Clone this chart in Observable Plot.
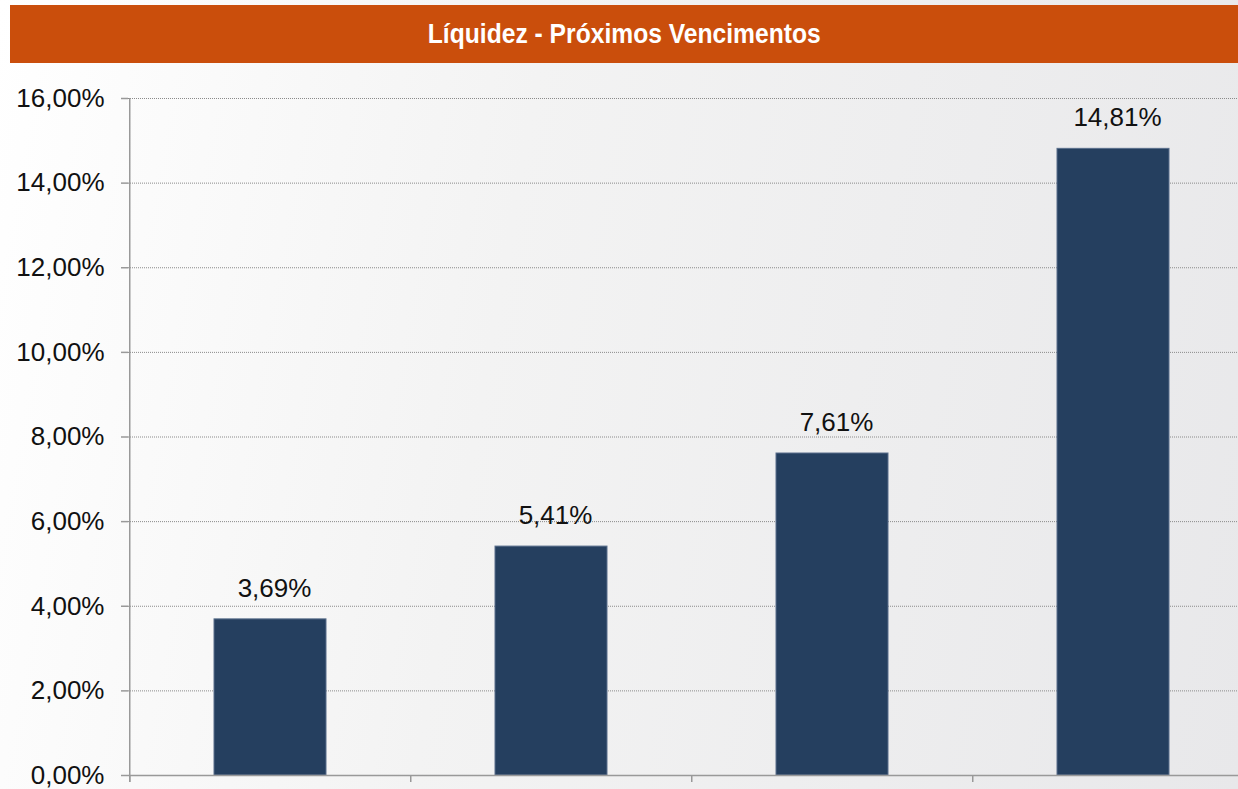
<!DOCTYPE html>
<html><head><meta charset="utf-8">
<script src="https://cdn.jsdelivr.net/npm/d3@7"></script>
<script src="https://cdn.jsdelivr.net/npm/@observablehq/plot@0.6"></script>
<style>
html,body{margin:0;padding:0;width:1238px;height:789px;overflow:hidden;}
body{background:linear-gradient(100deg,#ffffff 0%,#f3f3f3 40%,#e8e8ea 100%);font-family:"Liberation Sans",Arial,sans-serif;}
#title{margin:5px 0 0 10px;width:1228px;height:58px;background:#CA4E0C;color:#fff;
font-family:"Liberation Sans Narrow","Arial Narrow","Liberation Sans",sans-serif;font-weight:bold;font-size:28px;
display:flex;align-items:center;justify-content:center;}
#title span{display:inline-block;transform:scaleX(0.88);white-space:nowrap;}
svg{display:block;overflow:visible;}
</style></head>
<body>
<div id="title"><span>Líquidez - Próximos Vencimentos</span></div>
<div id="chart"></div>
<script>
const categories = ["A", "B", "C", "D"];
const values = [3.69, 5.41, 7.61, 14.81];
const yTicks = [0, 2, 4, 6, 8, 10, 12, 14, 16];

const fmt = v => v.toFixed(2).replace(".", ",") + "%";
const data = categories.map((c, i) => ({cat: c, v: values[i]}));

const W = 1238, H = 726;
const x0 = 128, x1 = 1254;
const step = (x1 - x0) / categories.length;

const chart = Plot.plot({
  width: W, height: H,
  marginLeft: 128, marginRight: 0, marginTop: 35, marginBottom: 14,
  style: {background: "transparent", fontFamily: "'Liberation Sans', Arial, sans-serif", overflow: "visible"},
  x: {domain: categories, range: [x0, x1], paddingInner: 0.602, paddingOuter: 0.301, axis: null},
  y: {domain: [0, 16], axis: null},
  marks: [
    Plot.ruleY(yTicks.filter(t => t > 0), {y: d => d, stroke: "#8a8a8a", strokeDasharray: "1,1", strokeWidth: 1}),
    Plot.barY(data, {x: "cat", y: "v", fill: "#253F5F", stroke: "#5a6f8c", strokeWidth: 1}),
    Plot.text(data, {x: "cat", y: "v", text: d => fmt(d.v), dy: -31, dx: 4, fontSize: 26, fill: "#111"}),
    Plot.ruleY([0], {stroke: "#999", strokeWidth: 1.5}),
    Plot.ruleX(categories, {x: d => d, dx: -step / 2, y1: 0, y2: -0.165, stroke: "#999", strokeWidth: 1.5}),
    Plot.ruleX([0], {x: () => categories[0], dx: -step / 2, y1: -0.165, y2: 16, stroke: "#999", strokeWidth: 1.5}),
    Plot.axisY(yTicks, {ticks: yTicks, tickFormat: fmt, tickSize: 7, tickPadding: 17, fontSize: 26, fill: "#111", stroke: "#999", strokeWidth: 1.5, anchor: "left", label: null})
  ]
});
document.getElementById("chart").appendChild(chart);
</script>
</body></html>
